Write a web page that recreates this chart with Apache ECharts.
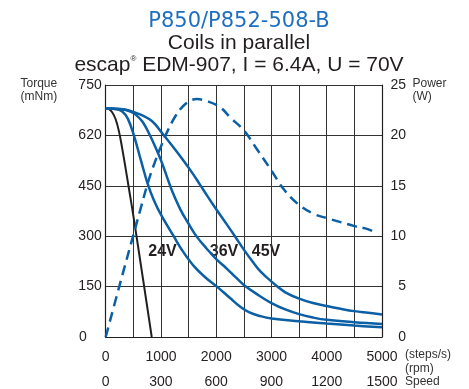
<!DOCTYPE html>
<html>
<head>
<meta charset="utf-8">
<script src="https://cdn.jsdelivr.net/npm/echarts/dist/echarts.min.js"></script>
<style>
html, body { margin: 0; padding: 0; background: #fff; }
#chart { width: 469px; height: 389px; }
</style>
</head>
<body>
<div id="chart"></div>
<script>
// tick labels
var torqueLabels = ['0', '150', '300', '450', '620', '750'];
var powerLabels = ['0', '5', '10', '15', '20', '25'];
var stepLabels = ['0', '1000', '2000', '3000', '4000', '5000'];
var rpmLabels = ['0', '300', '600', '900', '1200', '1500'];

// torque curves [steps/s, mNm]
var torqueBlack = [[0,680],[60,678],[120,668],[180,648],[240,612],[300,560],[360,502],[420,442],[480,382],[560,297],[650,200],[740,102],[833,0]];
var torque24V = [[0,680],[200,678],[300,671],[400,650],[510,600],[640,524],[760,456],[870,408],[1000,364],[1230,300],[1400,254],[1600,210],[1800,178],[2013,150],[2250,116],[2435,90],[2600,73],[2800,62],[3000,55],[3500,47],[4000,40],[4500,34],[5000,29]];
var torque36V = [[0,680],[300,678],[450,671],[540,662],[660,642],[780,607],[900,565],[1000,526],[1110,476],[1200,435],[1350,380],[1500,337],[1650,298],[1833,262],[2000,232],[2195,203],[2350,178],[2500,155],[2750,126],[3000,101],[3250,82],[3500,68],[3750,58],[4000,51],[4500,44],[5000,39]];
var torque45V = [[0,680],[300,678],[600,664],[840,642],[1030,605],[1200,570],[1380,531],[1560,490],[1700,455],[1850,417],[2000,380],[2200,333],[2350,297],[2500,260],[2650,226],[2800,195],[3000,165],[3100,151],[3250,133],[3500,114],[3750,101],[4000,92],[4250,84],[4500,77],[4750,72],[5000,67]];

// power curve [steps/s, W]
var power = [[0,0],[250,5.1],[500,10.1],[640,12.9],[780,15.6],[900,17.5],[1000,18.9],[1100,20.2],[1260,21.9],[1400,22.9],[1530,23.45],[1650,23.6],[1830,23.4],[2070,22.8],[2250,21.8],[2500,20.5],[2740,18.6],[3000,16.5],[3230,14.6],[3500,13.1],[3770,12.2],[4000,11.8],[4250,11.4],[4500,11.0],[4740,10.7],[4900,10.3]];

var blue = '#0b5fa5';
var dark = '#231f20';
var font = 'Liberation Sans, Arial, sans-serif';

var myChart = echarts.init(document.getElementById('chart'));

function curve(data, color, width) {
    return {
        type: 'line',
        data: data,
        showSymbol: false,
        smooth: 0.4,
        lineStyle: { color: color, width: width },
        silent: true
    };
}

function txt(text, x, y, size, opts) {
    opts = opts || {};
    return {
        type: 'text',
        x: x,
        y: y,
        silent: true,
        style: {
            text: text,
            fill: opts.color || dark,
            fontSize: size,
            fontFamily: opts.family || font,
            fontWeight: opts.weight || 'normal',
            textAlign: opts.align || 'left',
            textVerticalAlign: 'middle',
            lineHeight: opts.lineHeight || size,
            rich: opts.rich
        }
    };
}

var option = {
    animation: false,
    backgroundColor: '#fff',
    grid: {
        left: 105.7, right: 87, top: 85, bottom: 52,
        containLabel: false,
        outerBoundsMode: 'none',
        show: false
    },
    xAxis: {
        type: 'value',
        min: 0, max: 5000, interval: 500,
        axisLine: { show: true, lineStyle: { color: dark, width: 1.2 } },
        axisTick: { show: false },
        splitLine: { show: true, lineStyle: { color: '#333', width: 1 } },
        axisLabel: {
            margin: 7.5,
            color: dark,
            fontSize: 14,
            fontFamily: font,
            lineHeight: 25,
            showMinLabel: true,
            showMaxLabel: true,
            formatter: function (v) {
                if (v % 1000 !== 0) return '';
                var i = v / 1000;
                return stepLabels[i] + '\n' + rpmLabels[i];
            }
        }
    },
    yAxis: [{
        type: 'value',
        min: 0, max: 750, interval: 150,
        axisLine: { show: true, lineStyle: { color: dark, width: 1.2 } },
        axisTick: { show: false },
        splitLine: { show: true, lineStyle: { color: '#333', width: 1 } },
        axisLabel: {
            margin: 4,
            color: dark,
            fontSize: 14,
            fontFamily: font,
            formatter: function (v) {
                var i = Math.round(v / 150);
                if (i === 0) return '{z|' + torqueLabels[0] + '}';
                return torqueLabels[i];
            },
            rich: { z: { fontSize: 14, fontFamily: font, color: dark, padding: [0, 15, 0, 0] } }
        }
    }, {
        type: 'value',
        min: 0, max: 25, interval: 5,
        position: 'right',
        axisLine: { show: true, lineStyle: { color: dark, width: 1.2 } },
        axisTick: { show: false },
        splitLine: { show: false },
        axisLabel: {
            margin: 24,
            align: 'right',
            color: dark,
            fontSize: 14,
            fontFamily: font,
            formatter: function (v) {
                return powerLabels[Math.round(v / 5)];
            }
        }
    }],
    series: [
        curve(torqueBlack, dark, 2),
        curve(torque24V, blue, 2.5),
        curve(torque36V, blue, 2.5),
        curve(torque45V, blue, 2.5),
        {
            type: 'line',
            yAxisIndex: 1,
            data: power,
            showSymbol: false,
            smooth: 0.4,
            lineStyle: { color: blue, width: 2.5, type: [10, 6] },
            silent: true
        }
    ],
    graphic: [
        txt('P850/P852-508-B', 239, 22, 21, { color: '#1f6fbf', family: 'DejaVu Sans, sans-serif', align: 'center' }),
        txt('Coils in parallel', 239, 43, 21, { align: 'center' }),
        txt('escap{r|®} EDM-907, I = 6.4A, U = 70V', 239, 65, 21, {
            align: 'center',
            lineHeight: 21,
            rich: { r: { fontSize: 8, fontFamily: font, fill: dark, color: dark, verticalAlign: 'top', lineHeight: 21 } }
        }),
        txt('Torque\n(mNm)', 20.5, 90, 12, { lineHeight: 13, color: '#333' }),
        txt('Power\n(W)', 412.5, 90, 12, { lineHeight: 13, color: '#333' }),
        txt('(steps/s)', 405, 355, 12, { color: '#333' }),
        txt('(rpm)', 405, 368.5, 12, { color: '#333' }),
        txt('Speed', 405, 382, 12, { color: '#333' }),
        txt('24V', 162.5, 252, 16, { weight: 'bold', align: 'center' }),
        txt('36V', 224, 252, 16, { weight: 'bold', align: 'center' }),
        txt('45V', 266, 252, 16, { weight: 'bold', align: 'center' })
    ]
};

myChart.setOption(option);
window.addEventListener('resize', function () {
    myChart.resize();
});
</script>
</body>
</html>
